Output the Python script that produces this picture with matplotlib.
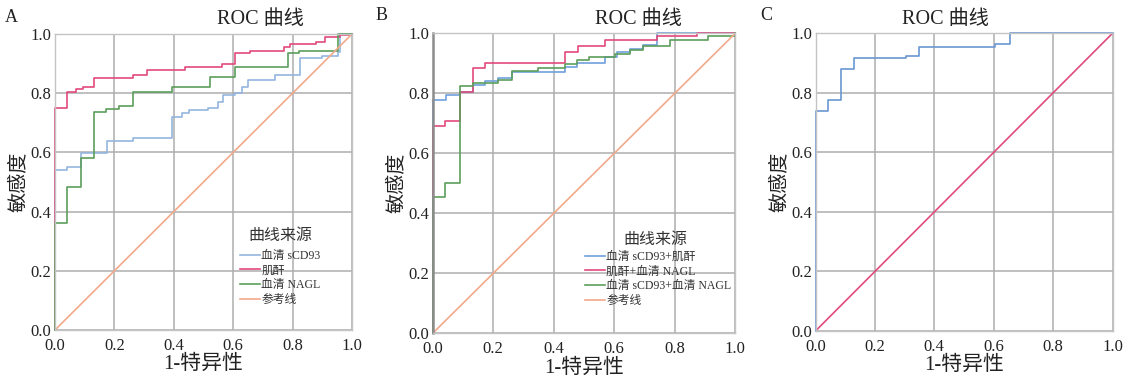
import matplotlib
matplotlib.use("Agg")
import matplotlib.pyplot as plt

plt.rcParams['font.family'] = ['Liberation Serif', 'Noto Sans CJK SC', 'DejaVu Sans']

ticks = [0.0, 0.2, 0.4, 0.6, 0.8, 1.0]
tick_labels = ["0.0", "0.2", "0.4", "0.6", "0.8", "1.0"]

# Panel A
a_scd93_x = [0, 0, 0.042, 0.088, 0.174, 0.261, 0.393, 0.427, 0.45, 0.516, 0.55, 0.567, 0.606, 0.63, 0.651, 0.74, 0.825, 0.9, 0.954, 0.96, 1.0]
a_scd93_y = [0, 0.54, 0.549, 0.597, 0.637, 0.647, 0.72, 0.732, 0.743, 0.749, 0.77, 0.794, 0.802, 0.82, 0.845, 0.861, 0.918, 0.925, 0.94, 1.0, 1.0]
a_cr_x = [0, 0, 0.042, 0.07, 0.095, 0.132, 0.264, 0.309, 0.438, 0.561, 0.606, 0.656, 0.77, 0.79, 0.88, 0.91, 0.96, 1.0]
a_cr_y = [0, 0.75, 0.805, 0.815, 0.822, 0.85, 0.861, 0.878, 0.89, 0.898, 0.935, 0.944, 0.955, 0.966, 0.974, 0.99, 0.995, 1.0]
a_nagl_x = [0, 0, 0.042, 0.088, 0.13, 0.172, 0.217, 0.261, 0.393, 0.522, 0.606, 0.786, 0.82, 0.954, 1.0]
a_nagl_y = [0, 0.362, 0.484, 0.58, 0.738, 0.746, 0.757, 0.805, 0.822, 0.856, 0.89, 0.937, 0.944, 1.0, 1.0]
a_labels = ['血清 sCD93', '肌酐', '血清 NAGL', '参考线']

# Panel B
b_scd93_cr_x = [0, 0, 0.045, 0.09, 0.132, 0.173, 0.217, 0.261, 0.437, 0.476, 0.569, 0.608, 0.652, 0.696, 0.74, 1.0]
b_scd93_cr_y = [0, 0.778, 0.794, 0.806, 0.828, 0.841, 0.85, 0.872, 0.889, 0.9, 0.92, 0.937, 0.948, 0.962, 1.0, 1.0]
b_cr_nagl_x = [0, 0, 0.041, 0.09, 0.132, 0.173, 0.437, 0.481, 0.569, 0.74, 0.872, 1.0]
b_cr_nagl_y = [0, 0.69, 0.709, 0.806, 0.883, 0.9, 0.937, 0.957, 0.978, 0.99, 1.0, 1.0]
b_scd93_nagl_x = [0, 0, 0.042, 0.09, 0.132, 0.217, 0.261, 0.349, 0.437, 0.476, 0.515, 0.603, 0.652, 0.696, 0.784, 0.911, 1.0]
b_scd93_nagl_y = [0, 0.455, 0.5, 0.824, 0.833, 0.844, 0.876, 0.886, 0.897, 0.911, 0.92, 0.93, 0.944, 0.959, 0.978, 0.991, 1.0]
b_labels = ['血清 sCD93+肌酐', '肌酐+血清 NAGL', '血清 sCD93+血清 NAGL', '参考线']

# Panel C
c_x = [0, 0, 0.042, 0.087, 0.13, 0.306, 0.349, 0.605, 0.655, 1.0]
c_y = [0, 0.738, 0.775, 0.88, 0.916, 0.924, 0.953, 0.963, 1.0, 1.0]

ref_x = [0, 1]
ref_y = [0, 1]

W, H = 1132, 380
fig = plt.figure(figsize=(W / 100, H / 100), dpi=100)

def px_axes(l, r, t, b):
    return fig.add_axes([l / W, (H - b) / H, (r - l) / W, (b - t) / H])

axA = px_axes(55, 352, 34, 330)
axB = px_axes(432.7, 735.3, 33.3, 333.3)
axC = px_axes(815.5, 1112.5, 33.3, 331)

for ax in (axA, axB, axC):
    ax.set_xlim(0, 1)
    ax.set_ylim(0, 1)
    ax.set_xticks(ticks)
    ax.set_yticks(ticks)
    ax.set_xticklabels(tick_labels)
    ax.set_yticklabels(tick_labels)
    ax.tick_params(length=0, labelsize=12, colors='#222222')
    ax.tick_params(axis='x', pad=5.5)
    ax.tick_params(axis='y', pad=2.5)
    ax.grid(True, color='#adadad', linewidth=1.1)
    ax.set_axisbelow(True)
    for s in ax.spines.values():
        s.set_color('#c4c4c4')
        s.set_linewidth(1.0)
    ax.set_xlabel("1-特异性", fontsize=15, labelpad=1, color='#222222')
    ax.set_ylabel("敏感度", fontsize=14.5, labelpad=1, color='#222222')

axB.spines['left'].set_color('#8c8c8c')
axB.spines['left'].set_linewidth(1.8)

lw = 1.2
blueA = '#93b6df'
blueB = '#6f9fdb'
blueC = '#6a96d2'
red = '#e14a7c'
green = '#5b9e5b'
orange = '#f2a98a'

kw = dict(drawstyle='steps-post', lw=lw, clip_on=False)
axA.plot(a_scd93_x, a_scd93_y, color=blueA, label=a_labels[0], **kw)
axA.plot(a_cr_x, a_cr_y, color=red, label=a_labels[1], **kw)
axA.plot(a_nagl_x, a_nagl_y, color=green, label=a_labels[2], **kw)
axA.plot(ref_x, ref_y, color=orange, lw=lw, label=a_labels[3])

axB.plot(b_scd93_cr_x, b_scd93_cr_y, color=blueB, label=b_labels[0], **kw)
axB.plot(b_cr_nagl_x, b_cr_nagl_y, color=red, label=b_labels[1], **kw)
axB.plot(b_scd93_nagl_x, b_scd93_nagl_y, color=green, label=b_labels[2], **kw)
axB.plot(ref_x, ref_y, color=orange, lw=lw, label=b_labels[3])

axC.plot(c_x, c_y, color=blueC, **kw)
axC.plot(ref_x, ref_y, color=red, lw=lw)

# legends (title drawn separately to match spacing)
for ax, (lx, ly), (tx, ty) in ((axA, (240, 250), (280, 236)), (axB, (585, 251), (655, 240))):
    pos = ax.get_position()
    ax_l, ax_b, ax_w, ax_h = pos.x0 * W, (1 - pos.y1) * H, pos.width * W, pos.height * H
    anchor = ((lx - ax_l) / ax_w, 1 - (ly - ax_b) / ax_h)
    leg = ax.legend(loc='upper left', bbox_to_anchor=anchor, frameon=False,
                    fontsize=8.5, handlelength=1.7, handletextpad=0.12, labelspacing=0.22,
                    borderaxespad=0, borderpad=0)
    for t in leg.get_texts():
        t.set_color('#333333')
    fig.text(tx / W, 1 - ty / H, "曲线来源", fontsize=11.5, ha='center', va='center', color='#333333')

fig.text(260 / W, 1 - 20 / H, "ROC 曲线", fontsize=14.5, ha='center', va='center', color='#222222')
fig.text(638 / W, 1 - 20 / H, "ROC 曲线", fontsize=14.5, ha='center', va='center', color='#222222')
fig.text(945 / W, 1 - 20 / H, "ROC 曲线", fontsize=14.5, ha='center', va='center', color='#222222')

fig.text(11 / W, 1 - 18 / H, "A", fontsize=13, ha='center', va='center', color='#222222')
fig.text(382 / W, 1 - 16 / H, "B", fontsize=13, ha='center', va='center', color='#222222')
fig.text(766 / W, 1 - 16 / H, "C", fontsize=13, ha='center', va='center', color='#222222')

fig.savefig("out.png", dpi=100)
